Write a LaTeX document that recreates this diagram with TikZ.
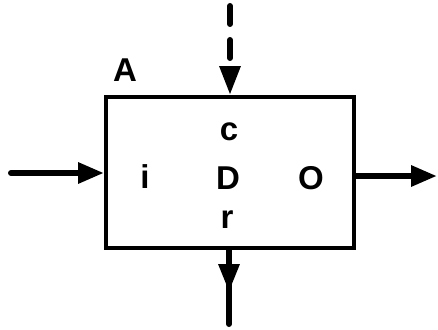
\documentclass[tikz,border=0pt]{standalone}
\usepackage{fontspec}
\setmainfont{Liberation Sans}
\usetikzlibrary{arrows.meta}
\begin{document}
\begin{tikzpicture}[x=1pt,y=-1pt,
  lbl/.style={inner sep=0pt,font=\fontsize{33}{33}\selectfont\bfseries},
  flow/.style={line width=6pt,-{Triangle[length=26pt,width=20pt]}},
  plain/.style={line width=6pt,line cap=round}]
  \useasboundingbox (0,0) rectangle (438,329);
  % the block
  \node[draw,line width=4pt,minimum width=248pt,minimum height=151pt,inner sep=0pt]
    (blk) at (230,172.5) {};
  \node[lbl] (la) at (125,70) {A};
  \node[lbl] (lc) at (229,132) {c};
  \node[lbl] (ld) at (228,178) {D};
  \node[lbl] (lr) at (227,220) {r};
  \node[lbl] (li) at (145,177) {i};
  \node[lbl] (lo) at (311,178) {O};
  % connector end points
  \coordinate (inL) at (11,173);
  \coordinate (outR) at (437,176);
  \coordinate (ctlTop) at (230,6);
  \coordinate (ctlHead) at (230,68);
  \coordinate (resBase) at (229,264);
  \coordinate (resTip) at (229,292);
  \coordinate (resEnd) at (229,324);
  % input
  \draw[plain] (inL) -- ([xshift=-20pt]blk.west |- inL);
  \draw[flow] (inL) -- (blk.west |- inL);
  % output
  \draw[flow] (blk.east |- outR) -- (outR);
  % control (dashed)
  \draw[plain,dash pattern=on 18pt off 16pt] (ctlTop) -- ([yshift=3pt]ctlHead);
  \draw[line width=6pt,-{Triangle[length=29pt,width=20pt]}] (ctlHead) -- (blk.north -| ctlHead);
  % resource
  \draw[line width=6pt] (blk.south -| resTip) -- (resBase);
  \draw[line width=6pt,-{Triangle[length=28pt,width=20pt]}] (resBase) -- (resTip);
  \draw[plain] ([yshift=14pt]resTip) -- (resEnd);
\end{tikzpicture}
\end{document}
